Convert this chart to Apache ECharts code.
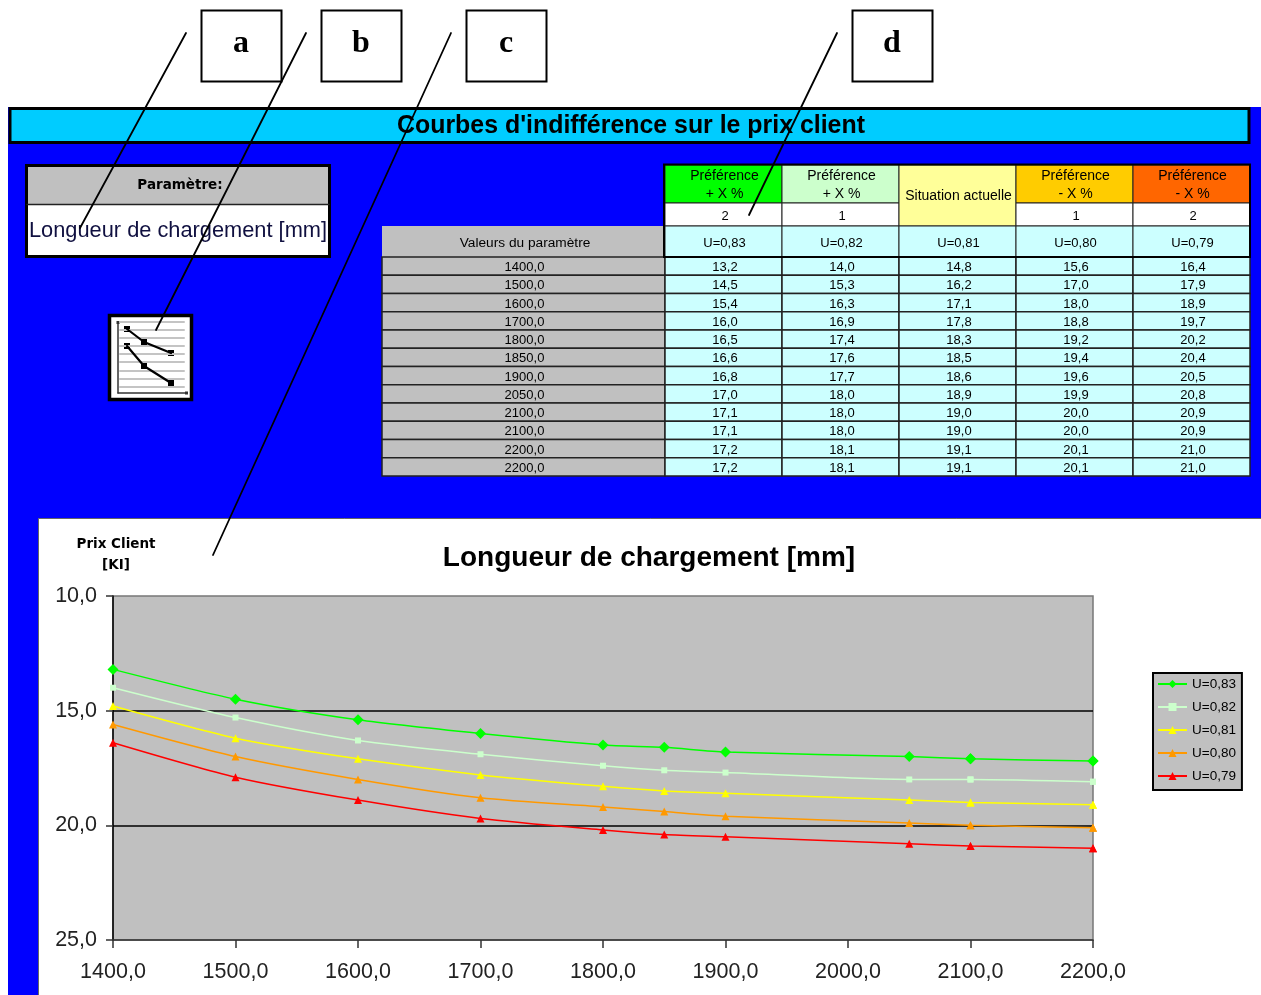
<!DOCTYPE html>
<html><head><meta charset="utf-8">
<style>html,body{margin:0;padding:0;background:#fff;overflow:hidden}#c{width:1261px;height:995px}</style>
<script src="https://cdn.jsdelivr.net/npm/echarts@6/dist/echarts.min.js"></script>
</head><body><div id="c"></div>
<script>
// ---------- data ----------
const parameterValues = [1400,1500,1600,1700,1800,1850,1900,2050,2100,2100,2200,2200];
const u83 = [13.2,14.5,15.4,16.0,16.5,16.6,16.8,17.0,17.1,17.1,17.2,17.2];
const u82 = [14.0,15.3,16.3,16.9,17.4,17.6,17.7,18.0,18.0,18.0,18.1,18.1];
const u81 = [14.8,16.2,17.1,17.8,18.3,18.5,18.6,18.9,19.0,19.0,19.1,19.1];
const u80 = [15.6,17.0,18.0,18.8,19.2,19.4,19.6,19.9,20.0,20.0,20.1,20.1];
const u79 = [16.4,17.9,18.9,19.7,20.2,20.4,20.5,20.8,20.9,20.9,21.0,21.0];
const seriesNames = ['U=0,83','U=0,82','U=0,81','U=0,80','U=0,79'];
const seriesValues = [u83,u82,u81,u80,u79];
const seriesColors = ['#00ff00','#ccffcc','#ffff00','#ff9900','#ff0000'];
const seriesSymbols = ['diamond','rect','triangle','triangle','triangle'];
const seriesSymbolSizes = [11,6,8,8,8];
const headerLabels = ['Préférence\n+ X %','Préférence\n+ X %','Situation actuelle','Préférence\n- X %','Préférence\n- X %'];
const headerColors = ['#00ff00','#ccffcc','#ffff99','#ffcc00','#ff6600'];
const levelLabels = ['2','1','','1','2'];
const chartTitle = 'Longueur de chargement [mm]';
const pageTitle = "Courbes d'indifférence sur le prix client";
const calloutLetters = ['a','b','c','d'];

const fmt = v => v.toFixed(1).replace('.', ',');
const SANS = '"Liberation Sans", Arial, sans-serif';
const DEJA = '"DejaVu Sans", sans-serif';
const g = [];
function rect(x,y,w,h,fill,stroke,lw,z){g.push({type:'rect',z:z||-5,shape:{x,y,width:w,height:h},style:{fill:fill||'none',stroke:stroke||null,lineWidth:lw||0},silent:true});}
function text(x,y,t,size,opt){opt=opt||{};g.push({type:'text',z:opt.z||-3,x,y,style:{text:t,fill:opt.fill||'#000',font:(opt.weight||'normal')+' '+size+'px '+(opt.family||SANS),align:opt.align||'center',verticalAlign:'middle',lineHeight:opt.lh||18},silent:true});}
function line(x1,y1,x2,y2,color,lw,z){g.push({type:'line',z:z||-4,shape:{x1,y1,x2,y2},style:{stroke:color,lineWidth:lw,lineCap:'round'},silent:true});}

// page background
rect(8,107,1253,888,'#0000ff');
// title bar
rect(10,108.5,1239,34,'#00ccff','#000',3);
text(631,126.5,pageTitle,24.9,{weight:'bold'});
// parameter box
rect(26.5,165.5,303,91,'#fff','#000',3);
rect(28,167,300,37,'#c0c0c0');
line(27,204.5,329,204.5,'#222',1.5);
text(180,185,'Paramètre:',13.5,{weight:'bold',family:DEJA});
text(178,231,chartTitle,21.8,{fill:'#101040'});
// icon
rect(109.5,315.5,82,84,'#fff','#000',3.5);
[322,330,338,346,354,362,371,379,387].forEach(yy=>line(120,yy,184,yy,'#c4c4c4',2));
line(118,324,118,393,'#333',1.5);line(118,393,186,393,'#333',1.5);
rect(116.5,321,3,3,'#333');rect(185,391.5,3,3,'#333');
[[127,329,144,342],[144,342,171,353],[127,346,144,366],[144,366,171,383]].forEach(s=>line(s[0],s[1],s[2],s[3],'#000',2.2));
[[127,329],[144,342],[171,353],[127,346],[144,366],[171,383]].forEach(p=>rect(p[0]-3,p[1]-3,6,6,'#000'));

// table
const colX=[665,782,899,1016,1133,1250], leftX=382, rowTop=257, rowBottom=476, rowH=(rowBottom-rowTop)/parameterValues.length;
headerLabels.forEach((h,i)=>{
  const w=colX[i+1]-colX[i];
  const tall=i===2;
  rect(colX[i],165,w,tall?61:38,headerColors[i],'#222',1);
  text(colX[i]+w/2+1,tall?196:185,h,14,{lh:18});
  if(!tall){rect(colX[i],203,w,23,'#fff','#222',1);text(colX[i]+w/2+1.5,216,levelLabels[i],13);}
  rect(colX[i],226,w,31,'#ccffff','#222',1);
  text(colX[i]+w/2+1,243,seriesNames[i],13);
});
rect(382,226,281,31,'#c0c0c0');
text(525,243,'Valeurs du paramètre',13.7);
line(664,226,664,257,'#000',2);
parameterValues.forEach((p,r)=>{
  const y=rowTop+r*rowH;
  rect(leftX,y,colX[0]-leftX,rowH,'#c0c0c0','#222',1.5);
  text((leftX+colX[0])/2+1,y+rowH/2+1.5,fmt(p),13);
  seriesValues.forEach((s,i)=>{
    rect(colX[i],y,colX[i+1]-colX[i],rowH,'#ccffff','#222',1.5);
    text((colX[i]+colX[i+1])/2+1.5,y+rowH/2+1.5,fmt(s[r]),13);
  });
});
rect(664,164.5,586,92.5,'none','#000',2,-2.5);

// chart panel
rect(38.5,518.5,1230,480,'#fff','#666',1);
text(116,544,'Prix Client',13.5,{weight:'bold',family:DEJA});
text(116,565.5,'[KI]',13.5,{weight:'bold',family:DEJA});

// callouts
const boxX=[201,321,466,852];
calloutLetters.forEach((c,i)=>{
  rect(boxX[i]+.5,10.5,80,71,'#fff','#000',2,50);
  text(boxX[i]+40,44,c,32,{weight:'bold',family:'"Liberation Serif", "Times New Roman", serif',z:51});
});
[[186,33,80,228],[306,33,156,330],[451,33,213,555],[837,33,749,215]].forEach(s=>line(s[0],s[1],s[2],s[3],'#000',1.8,60));

const chart=echarts.init(document.getElementById('c'),null,{renderer:'canvas'});
chart.setOption({
  animation:false,
  backgroundColor:'#fff',
  graphic:{elements:g},
  title:{text:chartTitle,left:644,top:539,textAlign:'center',textStyle:{fontFamily:SANS,fontSize:28,fontWeight:'bold',color:'#000'}},
  grid:{left:113,top:596,width:980,height:344,show:true,backgroundColor:'#c0c0c0',borderColor:'#777',borderWidth:1.5,containLabel:false},
  legend:{
    orient:'vertical',left:1153,top:673,padding:[4,6,7,4],itemGap:9,itemWidth:29,itemHeight:10,
    backgroundColor:'#c0c0c0',borderColor:'#000',borderWidth:2,
    textStyle:{fontFamily:SANS,fontSize:13.5,color:'#000'},
    data:seriesNames
  },
  xAxis:{type:'value',min:1400,max:2200,interval:100,
    axisLine:{onZero:false,lineStyle:{color:'#333',width:1.5}},
    axisTick:{length:8,lineStyle:{color:'#333',width:1.5}},
    axisLabel:{formatter:fmt,fontFamily:SANS,fontSize:21.5,color:'#222',margin:21,showMinLabel:true,showMaxLabel:true},
    splitLine:{show:false}},
  yAxis:{type:'value',inverse:true,min:10,max:25,interval:5,
    axisLine:{show:true,onZero:false,lineStyle:{color:'#000',width:1.5}},
    axisTick:{show:true,length:7,lineStyle:{color:'#333',width:1.5}},
    axisLabel:{formatter:fmt,fontFamily:SANS,fontSize:21.5,color:'#222',margin:16},
    splitLine:{show:true,showMinLine:false,showMaxLine:false,lineStyle:{color:'#000',width:1.5}}},
  series:seriesNames.map((n,i)=>({
    name:n,type:'line',smooth:0.25,symbol:seriesSymbols[i],symbolSize:seriesSymbolSizes[i],showSymbol:true,
    lineStyle:{color:seriesColors[i],width:1.5},itemStyle:{color:seriesColors[i]},clip:false,
    data:parameterValues.map((p,k)=>[p,seriesValues[i][k]])
  }))
});
</script></body></html>
